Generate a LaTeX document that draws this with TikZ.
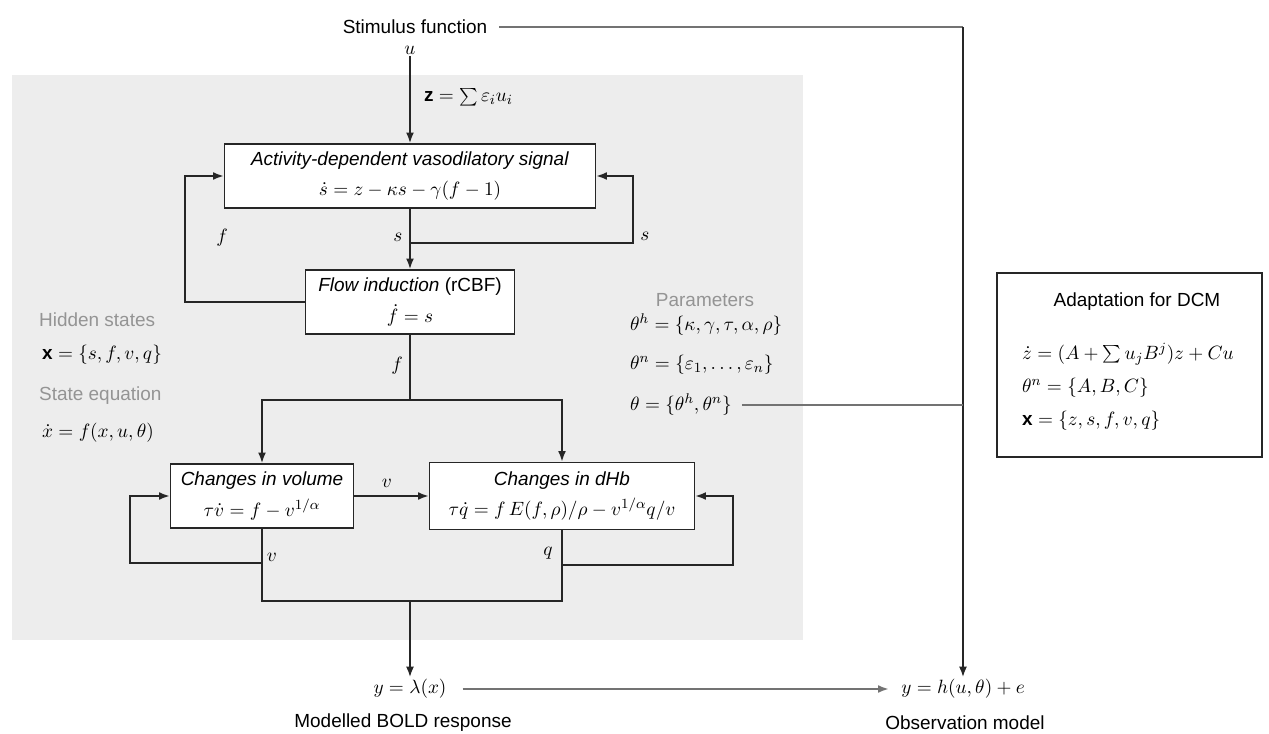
\documentclass[tikz,border=0pt]{standalone}
\usepackage{fontspec}
\setmainfont{Liberation Sans}
\usepackage{tikz}
\usetikzlibrary{arrows.meta}
\tikzset{
	box/.style={draw=black!85, fill=white, line width=1pt, align=center, inner sep=0pt},
	conn/.style={draw=black!85, line width=1pt},
	arr/.style={conn, -{Latex[length=6pt,width=4.5pt]}},
	faint/.style={draw=black!55, line width=1pt},
	lbl/.style={inner sep=1pt},
	greytxt/.style={text=black!42, inner sep=1pt, anchor=west}
}

\begin{document}
\begin{tikzpicture}[x=0.02cm, y=-0.02cm, font=\fontsize{10.8}{17.5}\selectfont]
			%%%%% START %%%%%
			\useasboundingbox (0, 0) rectangle (1269, 734);
			
			\fill[black!7] (12, 75) rectangle (803, 640);
			
			\node[lbl] (stim) at (415, 27) {Stimulus function};
			\node[lbl] (u) at (410, 50) {$u$};
			\node[lbl, anchor=west] (zin) at (422, 97) {$\mathbf{z} = \sum \varepsilon_i u_i$};
			
			\node[box, minimum width=371*0.02cm, minimum height=64*0.02cm] (act) at (410, 176)
				{\textit{Activity-dependent vasodilatory signal}\\ $\dot s = z-\kappa s-\gamma(f-1)$};
			\node[box, minimum width=209*0.02cm, minimum height=64*0.02cm] (flow) at (410, 302)
				{\textit{Flow induction} (rCBF)\\ $\dot f = s$};
			\node[box, minimum width=183*0.02cm, minimum height=64*0.02cm] (vol) at (262, 496)
				{\textit{Changes in volume}\\ $\tau\dot v = f - v^{1/\alpha}$};
			\node[box, minimum width=265*0.02cm, minimum height=67*0.02cm] (dhb) at (562, 496)
				{\textit{Changes in dHb}\\ $\tau\dot q = f\,E(f,\rho)/\rho - v^{1/\alpha}q/v$};
			
			\coordinate (lf) at (185, 302);
			\coordinate (sj) at (410, 243);
			\coordinate (rs) at (633, 243);
			\coordinate (fj) at (410, 400);
			\coordinate (vb) at (262, 563);
			\coordinate (vl) at (130, 563);
			\coordinate (qb) at (562, 565);
			\coordinate (qr) at (733, 565);
			\coordinate (bl) at (262, 601);
			\coordinate (br) at (562, 601);
			\coordinate (bm) at (410, 601);
			\coordinate (tj) at (963, 405);
			\coordinate (sc) at (963, 27);
			
			\draw[arr] (u.south) -- (act.north);
			\draw[arr] (act.south) -- (flow.north);
			\draw[arr] (flow.west) -- (lf) |- (act.west);
			\draw[arr] (sj) -- (rs) |- (act.east);
			\draw[conn] (flow.south) -- (fj);
			\draw[arr] (fj) -| (vol.north);
			\draw[arr] (fj) -| (dhb.north);
			\draw[arr] (vol.east) -- (dhb.west);
			\draw[arr] (vb) -- (vl) |- (vol.west);
			\draw[arr] (qb) -- (qr) |- (dhb.east);
			\draw[conn] (vol.south) -- (bl) -- (br) -- (dhb.south);
			
			\node[lbl] at (222, 238) {$f$};
			\node[lbl] at (398, 237) {$s$};
			\node[lbl] at (645, 236) {$s$};
			\node[lbl] at (397, 366) {$f$};
			\node[lbl] at (387, 483) {$v$};
			\node[lbl] at (272, 557) {$v$};
			\node[lbl] at (548, 553) {$q$};
			
			\node[greytxt] at (37, 320) {Hidden states};
			\node[lbl, anchor=west] at (40, 355) {$\mathbf{x} = \{s,f,v,q\}$};
			\node[greytxt] at (37, 396) {State equation};
			\node[lbl, anchor=west] at (40, 433) {$\dot x = f(x,u,\theta)$};
			
			\node[greytxt, anchor=center] at (705, 300) {Parameters};
			\node[lbl, anchor=west] at (628, 325) {$\theta^h = \{\kappa,\gamma,\tau,\alpha,\rho\}$};
			\node[lbl, anchor=west] at (628, 365) {$\theta^n = \{\varepsilon_1,\ldots,\varepsilon_n\}$};
			\node[lbl, anchor=west] (theta) at (628, 405) {$\theta = \{\theta^h,\theta^n\}$};
			
			\node[lbl] (lam) at (410, 689) {$y = \lambda(x)$};
			\node[lbl] at (403, 723) {Modelled BOLD response};
			\node[lbl] (obs) at (963, 689) {$y = h(u,\theta)+e$};
			\node[lbl] at (965, 723) {Observation model};
			
			\draw[arr] (bm) -- (lam.north);
			\draw[faint] (stim.east) ++(10, 0) -- (sc);
			\draw[arr] (sc) -- (obs.north);
			\draw[faint] (theta.east) ++(8, 0) -- (tj);
			\draw[faint, -{Latex[length=6pt,width=4.5pt]}] ([xshift=8]lam.east) -- ([xshift=-6]obs.west);
			
			\draw[conn] (997, 273) rectangle (1262, 457);
			\node[lbl] (adapt) at (1137, 302) {Adaptation for DCM};
			\node[lbl, anchor=west] at (1020, 354) {$\dot z = (A+\sum u_jB^j)z+Cu$};
			\node[lbl, anchor=west] at (1020, 388) {$\theta^n = \{A,B,C\}$};
			\node[lbl, anchor=west] at (1020, 421) {$\mathbf{x} = \{z,s,f,v,q\}$};
			
			%%%%% END %%%%%
\end{tikzpicture}
\end{document}
